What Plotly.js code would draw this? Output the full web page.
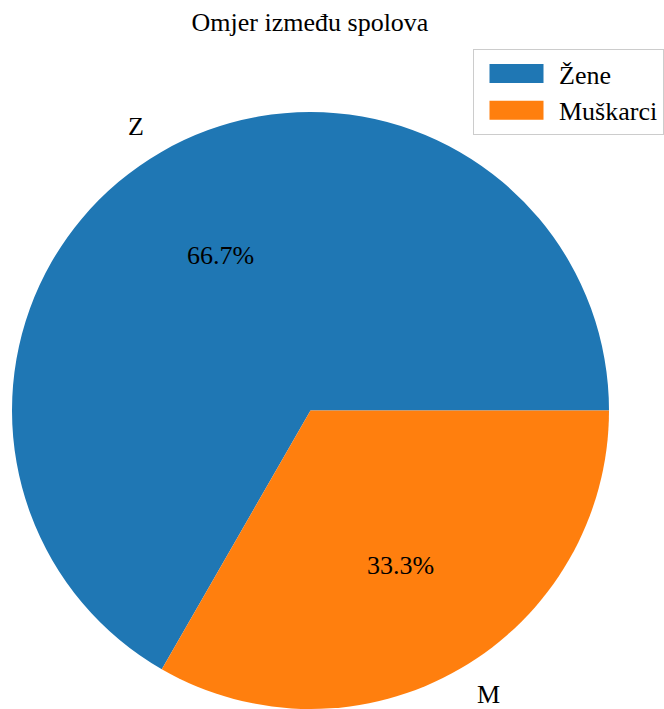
<!DOCTYPE html>
<html><head><meta charset="utf-8">
<script src="https://cdn.plot.ly/plotly-3.0.1.min.js"></script>
<style>html,body{margin:0;padding:0;background:#fff}#chart{width:664px;height:709px}</style>
</head><body><div id="chart"></div>
<script>
const legendLabels = ["Žene", "Muškarci"];
const sliceLabels = ["Z", "M"];
const values = [66.7, 33.3];
const colors = ["#1f77b4", "#ff7f0e"];
const titleText = "Omjer između spolova";

const W = 664, H = 709;
const FONT = "Liberation Serif, Times New Roman, serif";
const domX = [11/W, 610/W], domY = [0, 1 - 112/H];
const cxPx = (domX[0]+domX[1])/2*W;
const cyPx = H - (domY[0]+domY[1])/2*H;
const rPx = Math.min((domX[1]-domX[0])*W, (domY[1]-domY[0])*H)/2;

const total = values.reduce((a,b)=>a+b,0);
// Plotly counterclockwise: first slice spans clockwise from `rotation` by its share,
// so to start the first slice at 3 o'clock going counterclockwise:
const firstShareDeg = values[0]/total*360;
const rotation = 90 - firstShareDeg;

const annotations = [];
let start = 0;
values.forEach((v,i)=>{
  const mid = (start + v/2)/total*2*Math.PI; // counterclockwise from 3 o'clock
  start += v;
  const dx = Math.cos(mid), dy = Math.sin(mid);
  annotations.push({
    xref:'paper', yref:'paper',
    x:(cxPx + 1.1*rPx*dx)/W, y:1-(cyPx - 1.1*rPx*dy)/H,
    text: sliceLabels[i], showarrow:false,
    xanchor: dx>0 ? 'left':'right', yanchor:'middle',
    font:{family:FONT,size:26,color:'#000'}
  });
  annotations.push({
    xref:'paper', yref:'paper',
    x:(cxPx + 0.6*rPx*dx)/W, y:1-(cyPx - 0.6*rPx*dy)/H,
    text: (v/total*100).toFixed(1)+'%', showarrow:false,
    xanchor:'center', yanchor:'middle',
    font:{family:FONT,size:26,color:'#000'}
  });
});

const data = [{
  type:'pie', labels: legendLabels, values: values,
  marker:{colors: colors, line:{width:0}},
  sort:false, direction:'counterclockwise', rotation: rotation,
  textinfo:'none', hoverinfo:'label+percent',
  domain:{x:domX, y:domY}
}];

const layout = {
  width:W, height:H,
  margin:{l:0,r:0,t:0,b:0},
  paper_bgcolor:'#fff',
  font:{family:FONT, color:'#000'},
  title:{text:titleText, font:{family:FONT,size:26,color:'#000'},
         x:310/W, xanchor:'center', y:1-22/H, yanchor:'middle', xref:'paper', yref:'container'},
  showlegend:true,
  legend:{x:473/W, y:1-49/H, xanchor:'left', yanchor:'top',
          bgcolor:'rgba(255,255,255,0.8)', bordercolor:'#cccccc', borderwidth:1,
          font:{family:FONT,size:26,color:'#000'}, itemwidth:75},
  annotations: annotations
};

Plotly.newPlot('chart', data, layout, {displayModeBar:false, staticPlot:true}).then(()=>{
  document.querySelectorAll('.legendpie').forEach(p=>{
    p.setAttribute('d','M-27,-9.5H27V9.5H-27Z');
  });
});
</script></body></html>
